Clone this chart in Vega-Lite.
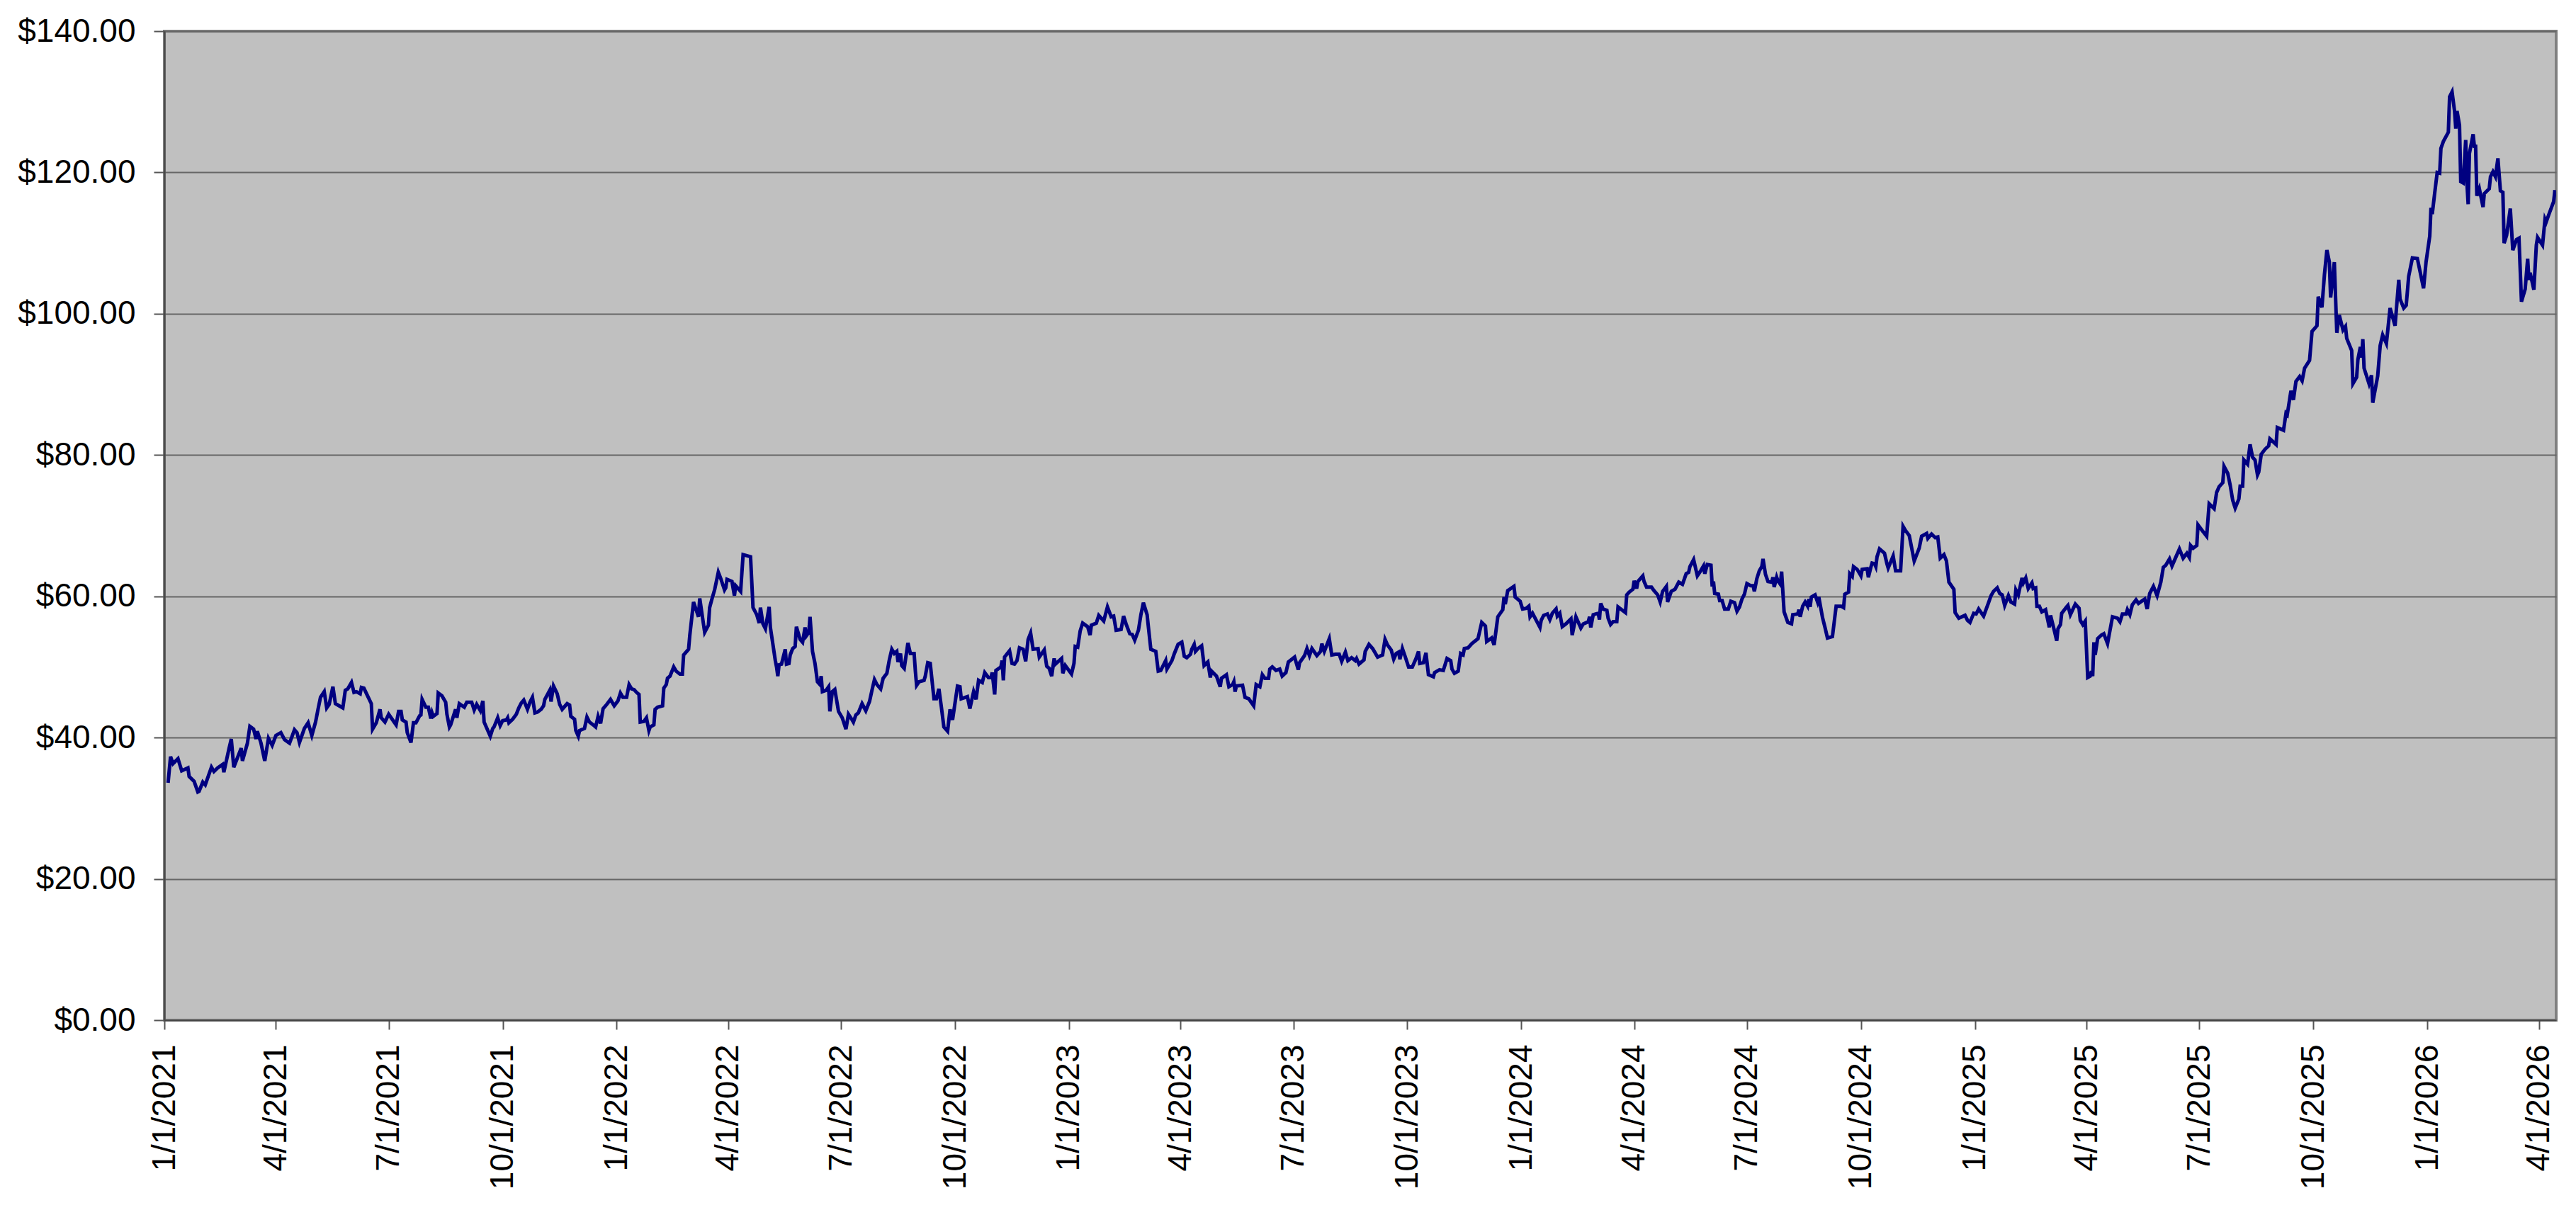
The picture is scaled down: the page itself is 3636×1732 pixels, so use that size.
{
  "$schema": "https://vega.github.io/schema/vega-lite/v6.json",
  "description": "Daily closing price, 1/1/2021 to 4/2026",
  "width": 3376,
  "height": 1396,
  "autosize": {"type": "none"},
  "padding": {"left": 232, "top": 44, "right": 28, "bottom": 292},
  "background": "#ffffff",
  "data": {
    "values": [
      {"date": "2021-01-04", "price": 33.6}, {"date": "2021-01-06", "price": 37.3}, {"date": "2021-01-08", "price": 36.3}, {"date": "2021-01-12", "price": 37.0},
      {"date": "2021-01-15", "price": 35.3}, {"date": "2021-01-20", "price": 35.7}, {"date": "2021-01-21", "price": 34.5}, {"date": "2021-01-25", "price": 33.8},
      {"date": "2021-01-28", "price": 32.3}, {"date": "2021-01-29", "price": 32.4}, {"date": "2021-02-01", "price": 33.7}, {"date": "2021-02-03", "price": 33.3},
      {"date": "2021-02-08", "price": 35.8}, {"date": "2021-02-10", "price": 35.2}, {"date": "2021-02-13", "price": 35.7}, {"date": "2021-02-17", "price": 36.2},
      {"date": "2021-02-18", "price": 35.1}, {"date": "2021-02-22", "price": 38.3}, {"date": "2021-02-24", "price": 39.8}, {"date": "2021-02-26", "price": 35.8},
      {"date": "2021-03-04", "price": 38.5}, {"date": "2021-03-05", "price": 36.7}, {"date": "2021-03-09", "price": 39.2}, {"date": "2021-03-11", "price": 41.6},
      {"date": "2021-03-14", "price": 41.2}, {"date": "2021-03-16", "price": 39.8}, {"date": "2021-03-17", "price": 40.9}, {"date": "2021-03-20", "price": 39.2},
      {"date": "2021-03-23", "price": 36.7}, {"date": "2021-03-26", "price": 39.9}, {"date": "2021-03-29", "price": 38.9}, {"date": "2021-04-01", "price": 40.3},
      {"date": "2021-04-05", "price": 40.7}, {"date": "2021-04-08", "price": 39.7}, {"date": "2021-04-12", "price": 39.2}, {"date": "2021-04-16", "price": 41.1},
      {"date": "2021-04-18", "price": 40.7}, {"date": "2021-04-20", "price": 39.3}, {"date": "2021-04-24", "price": 41.3}, {"date": "2021-04-27", "price": 42.1},
      {"date": "2021-04-30", "price": 40.3}, {"date": "2021-05-03", "price": 42.2}, {"date": "2021-05-05", "price": 44.0}, {"date": "2021-05-07", "price": 45.7},
      {"date": "2021-05-10", "price": 46.5}, {"date": "2021-05-12", "price": 44.2}, {"date": "2021-05-14", "price": 44.7}, {"date": "2021-05-17", "price": 47.2},
      {"date": "2021-05-19", "price": 44.8}, {"date": "2021-05-22", "price": 44.5}, {"date": "2021-05-25", "price": 44.2}, {"date": "2021-05-27", "price": 46.7},
      {"date": "2021-05-29", "price": 46.9}, {"date": "2021-06-01", "price": 47.8}, {"date": "2021-06-03", "price": 46.4}, {"date": "2021-06-05", "price": 46.5},
      {"date": "2021-06-08", "price": 46.2}, {"date": "2021-06-09", "price": 47.1}, {"date": "2021-06-11", "price": 47.0}, {"date": "2021-06-14", "price": 45.9},
      {"date": "2021-06-17", "price": 44.8}, {"date": "2021-06-18", "price": 41.2}, {"date": "2021-06-21", "price": 42.1}, {"date": "2021-06-24", "price": 44.0},
      {"date": "2021-06-25", "price": 42.8}, {"date": "2021-06-28", "price": 42.2}, {"date": "2021-07-01", "price": 43.3}, {"date": "2021-07-05", "price": 42.3},
      {"date": "2021-07-07", "price": 41.8}, {"date": "2021-07-09", "price": 43.7}, {"date": "2021-07-11", "price": 43.7}, {"date": "2021-07-12", "price": 42.5},
      {"date": "2021-07-15", "price": 42.2}, {"date": "2021-07-16", "price": 40.7}, {"date": "2021-07-19", "price": 39.3}, {"date": "2021-07-21", "price": 42.1},
      {"date": "2021-07-23", "price": 42.1}, {"date": "2021-07-26", "price": 43.1}, {"date": "2021-07-27", "price": 43.2}, {"date": "2021-07-28", "price": 45.4},
      {"date": "2021-07-31", "price": 44.3}, {"date": "2021-08-02", "price": 44.3}, {"date": "2021-08-04", "price": 42.7}, {"date": "2021-08-05", "price": 43.5},
      {"date": "2021-08-06", "price": 43.0}, {"date": "2021-08-09", "price": 43.4}, {"date": "2021-08-10", "price": 46.3}, {"date": "2021-08-13", "price": 45.9},
      {"date": "2021-08-16", "price": 45.0}, {"date": "2021-08-17", "price": 43.3}, {"date": "2021-08-19", "price": 41.5}, {"date": "2021-08-20", "price": 41.8},
      {"date": "2021-08-24", "price": 44.0}, {"date": "2021-08-25", "price": 42.8}, {"date": "2021-08-27", "price": 44.8}, {"date": "2021-08-31", "price": 44.3},
      {"date": "2021-09-02", "price": 45.0}, {"date": "2021-09-06", "price": 45.0}, {"date": "2021-09-08", "price": 43.9}, {"date": "2021-09-10", "price": 44.7},
      {"date": "2021-09-13", "price": 43.8}, {"date": "2021-09-15", "price": 45.2}, {"date": "2021-09-16", "price": 42.2}, {"date": "2021-09-19", "price": 41.0},
      {"date": "2021-09-21", "price": 40.2}, {"date": "2021-09-23", "price": 41.3}, {"date": "2021-09-24", "price": 41.5}, {"date": "2021-09-27", "price": 42.8},
      {"date": "2021-09-29", "price": 41.7}, {"date": "2021-10-01", "price": 42.4}, {"date": "2021-10-04", "price": 42.5}, {"date": "2021-10-05", "price": 42.8},
      {"date": "2021-10-06", "price": 42.1}, {"date": "2021-10-09", "price": 42.6}, {"date": "2021-10-12", "price": 43.3}, {"date": "2021-10-14", "price": 44.2},
      {"date": "2021-10-16", "price": 44.9}, {"date": "2021-10-18", "price": 45.3}, {"date": "2021-10-21", "price": 44.0}, {"date": "2021-10-23", "price": 45.0},
      {"date": "2021-10-25", "price": 45.7}, {"date": "2021-10-27", "price": 43.5}, {"date": "2021-10-29", "price": 43.6}, {"date": "2021-11-01", "price": 44.0},
      {"date": "2021-11-03", "price": 44.5}, {"date": "2021-11-04", "price": 45.4}, {"date": "2021-11-08", "price": 46.7}, {"date": "2021-11-09", "price": 45.1},
      {"date": "2021-11-11", "price": 47.3}, {"date": "2021-11-14", "price": 46.2}, {"date": "2021-11-16", "price": 44.7}, {"date": "2021-11-18", "price": 44.0},
      {"date": "2021-11-22", "price": 44.8}, {"date": "2021-11-24", "price": 44.6}, {"date": "2021-11-25", "price": 43.0}, {"date": "2021-11-28", "price": 42.6},
      {"date": "2021-11-29", "price": 41.0}, {"date": "2021-12-01", "price": 40.2}, {"date": "2021-12-02", "price": 41.0}, {"date": "2021-12-06", "price": 41.3},
      {"date": "2021-12-08", "price": 42.9}, {"date": "2021-12-10", "price": 42.2}, {"date": "2021-12-13", "price": 41.8}, {"date": "2021-12-15", "price": 41.5},
      {"date": "2021-12-17", "price": 43.0}, {"date": "2021-12-19", "price": 42.0}, {"date": "2021-12-21", "price": 44.1}, {"date": "2021-12-24", "price": 44.7},
      {"date": "2021-12-27", "price": 45.4}, {"date": "2021-12-30", "price": 44.5}, {"date": "2022-01-02", "price": 45.2}, {"date": "2022-01-04", "price": 46.3},
      {"date": "2022-01-06", "price": 45.7}, {"date": "2022-01-09", "price": 45.7}, {"date": "2022-01-11", "price": 47.5}, {"date": "2022-01-13", "price": 46.9},
      {"date": "2022-01-15", "price": 46.8}, {"date": "2022-01-17", "price": 46.4}, {"date": "2022-01-19", "price": 46.1}, {"date": "2022-01-20", "price": 42.2},
      {"date": "2022-01-23", "price": 42.3}, {"date": "2022-01-25", "price": 42.8}, {"date": "2022-01-27", "price": 41.0}, {"date": "2022-01-28", "price": 41.5},
      {"date": "2022-01-31", "price": 41.8}, {"date": "2022-02-01", "price": 44.0}, {"date": "2022-02-03", "price": 44.3}, {"date": "2022-02-07", "price": 44.5},
      {"date": "2022-02-08", "price": 47.0}, {"date": "2022-02-10", "price": 47.5}, {"date": "2022-02-11", "price": 48.4}, {"date": "2022-02-13", "price": 48.7},
      {"date": "2022-02-16", "price": 50.0}, {"date": "2022-02-18", "price": 49.4}, {"date": "2022-02-21", "price": 49.0}, {"date": "2022-02-23", "price": 49.0},
      {"date": "2022-02-24", "price": 51.7}, {"date": "2022-02-28", "price": 52.5}, {"date": "2022-03-01", "price": 54.5}, {"date": "2022-03-04", "price": 59.2},
      {"date": "2022-03-08", "price": 57.1}, {"date": "2022-03-09", "price": 59.7}, {"date": "2022-03-13", "price": 54.9}, {"date": "2022-03-16", "price": 55.9},
      {"date": "2022-03-17", "price": 58.4}, {"date": "2022-03-19", "price": 59.7}, {"date": "2022-03-21", "price": 60.9}, {"date": "2022-03-24", "price": 63.4},
      {"date": "2022-03-26", "price": 62.5}, {"date": "2022-03-29", "price": 60.9}, {"date": "2022-03-30", "price": 61.2}, {"date": "2022-03-31", "price": 62.4},
      {"date": "2022-04-04", "price": 62.1}, {"date": "2022-04-06", "price": 60.1}, {"date": "2022-04-07", "price": 61.5}, {"date": "2022-04-11", "price": 60.7},
      {"date": "2022-04-13", "price": 65.9}, {"date": "2022-04-15", "price": 65.8}, {"date": "2022-04-19", "price": 65.6}, {"date": "2022-04-21", "price": 58.4},
      {"date": "2022-04-24", "price": 57.4}, {"date": "2022-04-26", "price": 56.2}, {"date": "2022-04-27", "price": 58.4}, {"date": "2022-04-29", "price": 56.1},
      {"date": "2022-05-01", "price": 55.4}, {"date": "2022-05-04", "price": 58.5}, {"date": "2022-05-05", "price": 55.6}, {"date": "2022-05-09", "price": 50.9},
      {"date": "2022-05-10", "price": 50.0}, {"date": "2022-05-11", "price": 48.7}, {"date": "2022-05-12", "price": 50.3}, {"date": "2022-05-14", "price": 50.4},
      {"date": "2022-05-17", "price": 52.5}, {"date": "2022-05-18", "price": 50.4}, {"date": "2022-05-20", "price": 50.5}, {"date": "2022-05-21", "price": 51.7},
      {"date": "2022-05-23", "price": 52.6}, {"date": "2022-05-25", "price": 52.9}, {"date": "2022-05-26", "price": 55.7}, {"date": "2022-05-29", "price": 53.9},
      {"date": "2022-05-31", "price": 53.5}, {"date": "2022-06-02", "price": 55.6}, {"date": "2022-06-03", "price": 54.4}, {"date": "2022-06-05", "price": 54.9},
      {"date": "2022-06-06", "price": 57.1}, {"date": "2022-06-08", "price": 52.2}, {"date": "2022-06-10", "price": 50.5}, {"date": "2022-06-12", "price": 47.9},
      {"date": "2022-06-14", "price": 47.5}, {"date": "2022-06-15", "price": 48.7}, {"date": "2022-06-16", "price": 46.5}, {"date": "2022-06-19", "price": 46.7},
      {"date": "2022-06-21", "price": 47.2}, {"date": "2022-06-22", "price": 43.7}, {"date": "2022-06-24", "price": 46.5}, {"date": "2022-06-26", "price": 46.8},
      {"date": "2022-06-29", "price": 43.7}, {"date": "2022-07-02", "price": 42.8}, {"date": "2022-07-05", "price": 41.2}, {"date": "2022-07-07", "price": 43.3},
      {"date": "2022-07-10", "price": 42.5}, {"date": "2022-07-11", "price": 42.2}, {"date": "2022-07-13", "price": 43.2}, {"date": "2022-07-15", "price": 43.5},
      {"date": "2022-07-18", "price": 44.8}, {"date": "2022-07-21", "price": 43.8}, {"date": "2022-07-24", "price": 45.1}, {"date": "2022-07-26", "price": 46.7},
      {"date": "2022-07-28", "price": 48.2}, {"date": "2022-07-30", "price": 47.5}, {"date": "2022-08-02", "price": 46.9}, {"date": "2022-08-04", "price": 48.4},
      {"date": "2022-08-07", "price": 49.1}, {"date": "2022-08-09", "price": 51.0}, {"date": "2022-08-11", "price": 52.5}, {"date": "2022-08-13", "price": 51.9},
      {"date": "2022-08-15", "price": 52.2}, {"date": "2022-08-16", "price": 50.7}, {"date": "2022-08-18", "price": 51.9}, {"date": "2022-08-19", "price": 50.2},
      {"date": "2022-08-21", "price": 49.8}, {"date": "2022-08-24", "price": 53.4}, {"date": "2022-08-26", "price": 51.9}, {"date": "2022-08-29", "price": 51.9},
      {"date": "2022-08-30", "price": 49.4}, {"date": "2022-08-31", "price": 47.4}, {"date": "2022-09-02", "price": 47.9}, {"date": "2022-09-06", "price": 48.1},
      {"date": "2022-09-07", "price": 48.7}, {"date": "2022-09-09", "price": 50.6}, {"date": "2022-09-11", "price": 50.5}, {"date": "2022-09-14", "price": 45.5},
      {"date": "2022-09-16", "price": 45.5}, {"date": "2022-09-18", "price": 46.9}, {"date": "2022-09-20", "price": 44.3}, {"date": "2022-09-22", "price": 41.5},
      {"date": "2022-09-25", "price": 40.9}, {"date": "2022-09-27", "price": 44.0}, {"date": "2022-09-29", "price": 42.5}, {"date": "2022-10-03", "price": 47.3},
      {"date": "2022-10-05", "price": 47.2}, {"date": "2022-10-06", "price": 45.5}, {"date": "2022-10-11", "price": 45.8}, {"date": "2022-10-13", "price": 44.1},
      {"date": "2022-10-16", "price": 46.5}, {"date": "2022-10-18", "price": 45.4}, {"date": "2022-10-20", "price": 48.1}, {"date": "2022-10-23", "price": 47.8},
      {"date": "2022-10-25", "price": 49.2}, {"date": "2022-10-28", "price": 48.5}, {"date": "2022-10-30", "price": 48.5}, {"date": "2022-10-31", "price": 49.2},
      {"date": "2022-11-02", "price": 46.1}, {"date": "2022-11-03", "price": 49.5}, {"date": "2022-11-07", "price": 50.0}, {"date": "2022-11-08", "price": 50.9},
      {"date": "2022-11-09", "price": 48.1}, {"date": "2022-11-10", "price": 51.4}, {"date": "2022-11-14", "price": 52.3}, {"date": "2022-11-16", "price": 50.5},
      {"date": "2022-11-18", "price": 50.4}, {"date": "2022-11-20", "price": 50.9}, {"date": "2022-11-22", "price": 52.7}, {"date": "2022-11-25", "price": 52.5},
      {"date": "2022-11-27", "price": 50.8}, {"date": "2022-11-29", "price": 53.9}, {"date": "2022-12-01", "price": 54.8}, {"date": "2022-12-03", "price": 52.5},
      {"date": "2022-12-07", "price": 52.6}, {"date": "2022-12-08", "price": 51.4}, {"date": "2022-12-12", "price": 52.4}, {"date": "2022-12-14", "price": 50.1},
      {"date": "2022-12-16", "price": 49.8}, {"date": "2022-12-18", "price": 48.7}, {"date": "2022-12-20", "price": 51.2}, {"date": "2022-12-21", "price": 50.4},
      {"date": "2022-12-26", "price": 51.2}, {"date": "2022-12-27", "price": 49.1}, {"date": "2022-12-29", "price": 50.2}, {"date": "2023-01-03", "price": 49.0},
      {"date": "2023-01-05", "price": 50.5}, {"date": "2023-01-06", "price": 52.9}, {"date": "2023-01-08", "price": 52.8}, {"date": "2023-01-10", "price": 55.1},
      {"date": "2023-01-12", "price": 56.2}, {"date": "2023-01-16", "price": 55.7}, {"date": "2023-01-18", "price": 54.5}, {"date": "2023-01-19", "price": 55.9},
      {"date": "2023-01-23", "price": 56.2}, {"date": "2023-01-25", "price": 57.3}, {"date": "2023-01-27", "price": 56.9}, {"date": "2023-01-29", "price": 56.5},
      {"date": "2023-02-01", "price": 58.5}, {"date": "2023-02-04", "price": 57.1}, {"date": "2023-02-06", "price": 57.2}, {"date": "2023-02-08", "price": 55.2},
      {"date": "2023-02-12", "price": 55.3}, {"date": "2023-02-14", "price": 57.2}, {"date": "2023-02-16", "price": 56.1}, {"date": "2023-02-19", "price": 54.7},
      {"date": "2023-02-21", "price": 54.6}, {"date": "2023-02-23", "price": 53.8}, {"date": "2023-02-26", "price": 55.2}, {"date": "2023-02-28", "price": 57.4},
      {"date": "2023-03-02", "price": 59.1}, {"date": "2023-03-05", "price": 57.4}, {"date": "2023-03-06", "price": 55.7}, {"date": "2023-03-08", "price": 52.5},
      {"date": "2023-03-12", "price": 52.2}, {"date": "2023-03-14", "price": 49.4}, {"date": "2023-03-16", "price": 49.5}, {"date": "2023-03-20", "price": 50.9},
      {"date": "2023-03-21", "price": 49.7}, {"date": "2023-03-25", "price": 50.9}, {"date": "2023-03-27", "price": 51.9}, {"date": "2023-03-30", "price": 53.2},
      {"date": "2023-04-02", "price": 53.5}, {"date": "2023-04-04", "price": 51.5}, {"date": "2023-04-06", "price": 51.3}, {"date": "2023-04-09", "price": 51.8},
      {"date": "2023-04-10", "price": 52.5}, {"date": "2023-04-12", "price": 53.2}, {"date": "2023-04-13", "price": 52.2}, {"date": "2023-04-15", "price": 52.6},
      {"date": "2023-04-18", "price": 53.0}, {"date": "2023-04-20", "price": 50.2}, {"date": "2023-04-23", "price": 50.7}, {"date": "2023-04-25", "price": 48.5},
      {"date": "2023-04-26", "price": 49.4}, {"date": "2023-04-30", "price": 48.7}, {"date": "2023-05-03", "price": 47.2}, {"date": "2023-05-04", "price": 48.4},
      {"date": "2023-05-08", "price": 48.9}, {"date": "2023-05-10", "price": 47.2}, {"date": "2023-05-13", "price": 47.5}, {"date": "2023-05-14", "price": 47.9},
      {"date": "2023-05-15", "price": 46.5}, {"date": "2023-05-16", "price": 47.3}, {"date": "2023-05-21", "price": 47.4}, {"date": "2023-05-23", "price": 45.7},
      {"date": "2023-05-26", "price": 45.5}, {"date": "2023-05-30", "price": 44.5}, {"date": "2023-06-01", "price": 47.5}, {"date": "2023-06-04", "price": 47.2},
      {"date": "2023-06-06", "price": 48.9}, {"date": "2023-06-08", "price": 48.4}, {"date": "2023-06-11", "price": 48.4}, {"date": "2023-06-12", "price": 49.7},
      {"date": "2023-06-14", "price": 50.0}, {"date": "2023-06-17", "price": 49.5}, {"date": "2023-06-20", "price": 49.7}, {"date": "2023-06-22", "price": 48.7},
      {"date": "2023-06-25", "price": 49.2}, {"date": "2023-06-27", "price": 50.7}, {"date": "2023-07-02", "price": 51.4}, {"date": "2023-07-05", "price": 49.6},
      {"date": "2023-07-06", "price": 50.6}, {"date": "2023-07-10", "price": 51.6}, {"date": "2023-07-12", "price": 52.6}, {"date": "2023-07-14", "price": 51.6},
      {"date": "2023-07-16", "price": 52.6}, {"date": "2023-07-20", "price": 51.6}, {"date": "2023-07-23", "price": 52.2}, {"date": "2023-07-24", "price": 53.3},
      {"date": "2023-07-26", "price": 52.2}, {"date": "2023-07-30", "price": 54.0}, {"date": "2023-08-01", "price": 51.7}, {"date": "2023-08-04", "price": 51.8},
      {"date": "2023-08-07", "price": 51.8}, {"date": "2023-08-09", "price": 50.8}, {"date": "2023-08-12", "price": 52.1}, {"date": "2023-08-14", "price": 50.9},
      {"date": "2023-08-17", "price": 51.3}, {"date": "2023-08-20", "price": 50.9}, {"date": "2023-08-21", "price": 51.2}, {"date": "2023-08-23", "price": 50.4},
      {"date": "2023-08-27", "price": 51.0}, {"date": "2023-08-28", "price": 52.2}, {"date": "2023-08-31", "price": 53.2}, {"date": "2023-09-03", "price": 52.6},
      {"date": "2023-09-07", "price": 51.4}, {"date": "2023-09-11", "price": 51.7}, {"date": "2023-09-13", "price": 53.9}, {"date": "2023-09-15", "price": 53.1},
      {"date": "2023-09-18", "price": 52.4}, {"date": "2023-09-20", "price": 51.1}, {"date": "2023-09-22", "price": 51.9}, {"date": "2023-09-24", "price": 52.1},
      {"date": "2023-09-25", "price": 51.1}, {"date": "2023-09-27", "price": 52.6}, {"date": "2023-09-29", "price": 51.6}, {"date": "2023-10-02", "price": 50.0},
      {"date": "2023-10-05", "price": 50.0}, {"date": "2023-10-08", "price": 51.2}, {"date": "2023-10-10", "price": 52.2}, {"date": "2023-10-11", "price": 50.5},
      {"date": "2023-10-14", "price": 50.6}, {"date": "2023-10-16", "price": 52.0}, {"date": "2023-10-18", "price": 48.9}, {"date": "2023-10-22", "price": 48.6},
      {"date": "2023-10-23", "price": 49.2}, {"date": "2023-10-27", "price": 49.6}, {"date": "2023-10-30", "price": 49.5}, {"date": "2023-11-02", "price": 51.2},
      {"date": "2023-11-05", "price": 50.9}, {"date": "2023-11-06", "price": 49.7}, {"date": "2023-11-08", "price": 49.1}, {"date": "2023-11-11", "price": 49.4},
      {"date": "2023-11-13", "price": 51.9}, {"date": "2023-11-15", "price": 51.7}, {"date": "2023-11-16", "price": 52.6}, {"date": "2023-11-19", "price": 52.7},
      {"date": "2023-11-22", "price": 53.3}, {"date": "2023-11-27", "price": 54.0}, {"date": "2023-11-30", "price": 56.3}, {"date": "2023-12-03", "price": 55.8},
      {"date": "2023-12-04", "price": 53.6}, {"date": "2023-12-08", "price": 54.1}, {"date": "2023-12-10", "price": 53.1}, {"date": "2023-12-13", "price": 57.1},
      {"date": "2023-12-17", "price": 58.1}, {"date": "2023-12-18", "price": 59.9}, {"date": "2023-12-19", "price": 58.9}, {"date": "2023-12-21", "price": 60.8},
      {"date": "2023-12-26", "price": 61.4}, {"date": "2023-12-27", "price": 59.9}, {"date": "2023-12-31", "price": 59.3}, {"date": "2024-01-02", "price": 58.2},
      {"date": "2024-01-05", "price": 58.3}, {"date": "2024-01-07", "price": 58.6}, {"date": "2024-01-08", "price": 57.1}, {"date": "2024-01-10", "price": 57.6},
      {"date": "2024-01-13", "price": 56.6}, {"date": "2024-01-16", "price": 55.6}, {"date": "2024-01-17", "price": 56.6}, {"date": "2024-01-19", "price": 57.3},
      {"date": "2024-01-22", "price": 57.5}, {"date": "2024-01-24", "price": 56.7}, {"date": "2024-01-26", "price": 57.6}, {"date": "2024-01-29", "price": 58.2},
      {"date": "2024-01-30", "price": 57.2}, {"date": "2024-02-01", "price": 57.6}, {"date": "2024-02-03", "price": 55.7}, {"date": "2024-02-06", "price": 56.1},
      {"date": "2024-02-10", "price": 56.8}, {"date": "2024-02-11", "price": 54.5}, {"date": "2024-02-14", "price": 57.1}, {"date": "2024-02-18", "price": 55.5},
      {"date": "2024-02-20", "price": 56.1}, {"date": "2024-02-24", "price": 56.4}, {"date": "2024-02-25", "price": 57.1}, {"date": "2024-02-26", "price": 55.6},
      {"date": "2024-02-28", "price": 57.4}, {"date": "2024-03-03", "price": 57.6}, {"date": "2024-03-04", "price": 56.7}, {"date": "2024-03-05", "price": 59.0},
      {"date": "2024-03-07", "price": 58.2}, {"date": "2024-03-10", "price": 58.0}, {"date": "2024-03-11", "price": 56.9}, {"date": "2024-03-13", "price": 56.0},
      {"date": "2024-03-15", "price": 56.4}, {"date": "2024-03-18", "price": 56.4}, {"date": "2024-03-19", "price": 58.5}, {"date": "2024-03-22", "price": 58.1},
      {"date": "2024-03-25", "price": 57.7}, {"date": "2024-03-26", "price": 60.2}, {"date": "2024-03-28", "price": 60.6}, {"date": "2024-03-31", "price": 61.0},
      {"date": "2024-04-01", "price": 62.2}, {"date": "2024-04-03", "price": 61.1}, {"date": "2024-04-04", "price": 62.1}, {"date": "2024-04-08", "price": 62.9},
      {"date": "2024-04-09", "price": 62.1}, {"date": "2024-04-11", "price": 61.3}, {"date": "2024-04-15", "price": 61.3}, {"date": "2024-04-17", "price": 60.8},
      {"date": "2024-04-20", "price": 60.2}, {"date": "2024-04-22", "price": 59.2}, {"date": "2024-04-24", "price": 60.7}, {"date": "2024-04-27", "price": 61.4},
      {"date": "2024-04-28", "price": 59.2}, {"date": "2024-05-01", "price": 60.7}, {"date": "2024-05-04", "price": 61.0}, {"date": "2024-05-07", "price": 62.0},
      {"date": "2024-05-10", "price": 61.7}, {"date": "2024-05-13", "price": 63.2}, {"date": "2024-05-15", "price": 63.4}, {"date": "2024-05-16", "price": 64.2},
      {"date": "2024-05-19", "price": 65.2}, {"date": "2024-05-22", "price": 62.9}, {"date": "2024-05-25", "price": 63.7}, {"date": "2024-05-27", "price": 64.3},
      {"date": "2024-05-28", "price": 63.2}, {"date": "2024-05-30", "price": 64.5}, {"date": "2024-06-02", "price": 64.4}, {"date": "2024-06-03", "price": 61.4},
      {"date": "2024-06-04", "price": 62.1}, {"date": "2024-06-05", "price": 60.4}, {"date": "2024-06-08", "price": 60.3}, {"date": "2024-06-09", "price": 59.4},
      {"date": "2024-06-11", "price": 59.4}, {"date": "2024-06-13", "price": 58.2}, {"date": "2024-06-16", "price": 58.2}, {"date": "2024-06-18", "price": 59.3},
      {"date": "2024-06-21", "price": 59.1}, {"date": "2024-06-23", "price": 57.9}, {"date": "2024-06-25", "price": 58.5}, {"date": "2024-06-27", "price": 59.6},
      {"date": "2024-06-29", "price": 60.3}, {"date": "2024-07-01", "price": 61.8}, {"date": "2024-07-04", "price": 61.5}, {"date": "2024-07-06", "price": 61.5},
      {"date": "2024-07-07", "price": 60.7}, {"date": "2024-07-09", "price": 62.5}, {"date": "2024-07-11", "price": 63.6}, {"date": "2024-07-13", "price": 64.2},
      {"date": "2024-07-14", "price": 65.3}, {"date": "2024-07-16", "price": 63.1}, {"date": "2024-07-18", "price": 62.1}, {"date": "2024-07-21", "price": 62.0},
      {"date": "2024-07-22", "price": 62.7}, {"date": "2024-07-23", "price": 61.3}, {"date": "2024-07-25", "price": 62.7}, {"date": "2024-07-26", "price": 62.2},
      {"date": "2024-07-28", "price": 61.7}, {"date": "2024-07-29", "price": 63.5}, {"date": "2024-07-31", "price": 57.8}, {"date": "2024-08-03", "price": 56.3},
      {"date": "2024-08-06", "price": 56.1}, {"date": "2024-08-07", "price": 57.4}, {"date": "2024-08-11", "price": 57.5}, {"date": "2024-08-12", "price": 58.1},
      {"date": "2024-08-13", "price": 57.1}, {"date": "2024-08-15", "price": 58.6}, {"date": "2024-08-17", "price": 59.2}, {"date": "2024-08-19", "price": 58.6},
      {"date": "2024-08-20", "price": 59.6}, {"date": "2024-08-21", "price": 58.5}, {"date": "2024-08-22", "price": 59.9}, {"date": "2024-08-25", "price": 60.2},
      {"date": "2024-08-27", "price": 59.2}, {"date": "2024-08-28", "price": 59.9}, {"date": "2024-08-31", "price": 57.0}, {"date": "2024-09-02", "price": 55.6},
      {"date": "2024-09-04", "price": 54.1}, {"date": "2024-09-08", "price": 54.3}, {"date": "2024-09-11", "price": 58.6}, {"date": "2024-09-15", "price": 58.6},
      {"date": "2024-09-17", "price": 58.4}, {"date": "2024-09-18", "price": 60.3}, {"date": "2024-09-21", "price": 60.6}, {"date": "2024-09-22", "price": 63.2},
      {"date": "2024-09-24", "price": 62.8}, {"date": "2024-09-25", "price": 64.2}, {"date": "2024-09-28", "price": 63.8}, {"date": "2024-10-01", "price": 62.9},
      {"date": "2024-10-02", "price": 63.8}, {"date": "2024-10-06", "price": 63.9}, {"date": "2024-10-07", "price": 62.7}, {"date": "2024-10-09", "price": 64.1},
      {"date": "2024-10-10", "price": 64.7}, {"date": "2024-10-12", "price": 64.6}, {"date": "2024-10-13", "price": 64.2}, {"date": "2024-10-14", "price": 65.6},
      {"date": "2024-10-16", "price": 66.7}, {"date": "2024-10-20", "price": 66.1}, {"date": "2024-10-22", "price": 64.6}, {"date": "2024-10-23", "price": 64.0},
      {"date": "2024-10-27", "price": 65.7}, {"date": "2024-10-29", "price": 63.6}, {"date": "2024-11-02", "price": 63.6}, {"date": "2024-11-04", "price": 69.9},
      {"date": "2024-11-06", "price": 69.3}, {"date": "2024-11-09", "price": 68.6}, {"date": "2024-11-13", "price": 65.0}, {"date": "2024-11-17", "price": 66.8},
      {"date": "2024-11-19", "price": 68.5}, {"date": "2024-11-23", "price": 68.9}, {"date": "2024-11-24", "price": 68.2}, {"date": "2024-11-27", "price": 68.8},
      {"date": "2024-11-30", "price": 68.3}, {"date": "2024-12-02", "price": 68.4}, {"date": "2024-12-04", "price": 65.4}, {"date": "2024-12-07", "price": 65.9},
      {"date": "2024-12-09", "price": 65.0}, {"date": "2024-12-11", "price": 62.0}, {"date": "2024-12-15", "price": 61.0}, {"date": "2024-12-16", "price": 57.7},
      {"date": "2024-12-19", "price": 56.9}, {"date": "2024-12-24", "price": 57.3}, {"date": "2024-12-26", "price": 56.6}, {"date": "2024-12-28", "price": 56.3},
      {"date": "2024-12-31", "price": 57.6}, {"date": "2025-01-02", "price": 57.5}, {"date": "2025-01-04", "price": 58.2}, {"date": "2025-01-08", "price": 57.2},
      {"date": "2025-01-12", "price": 59.1}, {"date": "2025-01-14", "price": 60.1}, {"date": "2025-01-16", "price": 60.7}, {"date": "2025-01-19", "price": 61.2},
      {"date": "2025-01-21", "price": 60.4}, {"date": "2025-01-23", "price": 60.2}, {"date": "2025-01-25", "price": 58.7}, {"date": "2025-01-28", "price": 60.1},
      {"date": "2025-01-30", "price": 59.2}, {"date": "2025-02-02", "price": 58.9}, {"date": "2025-02-03", "price": 60.9}, {"date": "2025-02-05", "price": 60.2},
      {"date": "2025-02-08", "price": 62.6}, {"date": "2025-02-09", "price": 61.9}, {"date": "2025-02-11", "price": 62.6}, {"date": "2025-02-13", "price": 61.1},
      {"date": "2025-02-16", "price": 61.9}, {"date": "2025-02-17", "price": 61.1}, {"date": "2025-02-19", "price": 61.2}, {"date": "2025-02-20", "price": 58.6},
      {"date": "2025-02-22", "price": 58.6}, {"date": "2025-02-24", "price": 57.8}, {"date": "2025-02-27", "price": 58.1}, {"date": "2025-03-02", "price": 55.6},
      {"date": "2025-03-03", "price": 57.3}, {"date": "2025-03-06", "price": 55.2}, {"date": "2025-03-08", "price": 53.7}, {"date": "2025-03-09", "price": 55.4},
      {"date": "2025-03-11", "price": 56.0}, {"date": "2025-03-12", "price": 57.6}, {"date": "2025-03-16", "price": 58.5}, {"date": "2025-03-17", "price": 58.7},
      {"date": "2025-03-19", "price": 57.4}, {"date": "2025-03-23", "price": 58.9}, {"date": "2025-03-26", "price": 58.3}, {"date": "2025-03-27", "price": 56.6},
      {"date": "2025-03-29", "price": 56.0}, {"date": "2025-03-31", "price": 56.5}, {"date": "2025-04-02", "price": 48.5}, {"date": "2025-04-04", "price": 48.7},
      {"date": "2025-04-05", "price": 49.4}, {"date": "2025-04-06", "price": 48.7}, {"date": "2025-04-07", "price": 53.5}, {"date": "2025-04-08", "price": 51.7},
      {"date": "2025-04-10", "price": 54.0}, {"date": "2025-04-13", "price": 54.5}, {"date": "2025-04-15", "price": 54.7}, {"date": "2025-04-18", "price": 53.3},
      {"date": "2025-04-22", "price": 57.1}, {"date": "2025-04-26", "price": 56.9}, {"date": "2025-04-28", "price": 56.4}, {"date": "2025-04-30", "price": 57.5},
      {"date": "2025-05-03", "price": 57.5}, {"date": "2025-05-04", "price": 58.1}, {"date": "2025-05-06", "price": 57.4}, {"date": "2025-05-08", "price": 58.8},
      {"date": "2025-05-11", "price": 59.5}, {"date": "2025-05-13", "price": 59.0}, {"date": "2025-05-18", "price": 59.6}, {"date": "2025-05-20", "price": 58.2},
      {"date": "2025-05-22", "price": 60.4}, {"date": "2025-05-25", "price": 61.4}, {"date": "2025-05-28", "price": 60.1}, {"date": "2025-05-31", "price": 62.0},
      {"date": "2025-06-02", "price": 64.1}, {"date": "2025-06-04", "price": 64.4}, {"date": "2025-06-07", "price": 65.3}, {"date": "2025-06-09", "price": 64.3},
      {"date": "2025-06-12", "price": 65.5}, {"date": "2025-06-15", "price": 66.7}, {"date": "2025-06-18", "price": 65.4}, {"date": "2025-06-21", "price": 66.1},
      {"date": "2025-06-23", "price": 65.5}, {"date": "2025-06-24", "price": 67.2}, {"date": "2025-06-26", "price": 66.8}, {"date": "2025-06-29", "price": 67.2},
      {"date": "2025-06-30", "price": 70.1}, {"date": "2025-07-03", "price": 69.4}, {"date": "2025-07-07", "price": 68.5}, {"date": "2025-07-09", "price": 73.1},
      {"date": "2025-07-13", "price": 72.4}, {"date": "2025-07-15", "price": 74.7}, {"date": "2025-07-17", "price": 75.5}, {"date": "2025-07-20", "price": 76.1},
      {"date": "2025-07-21", "price": 78.4}, {"date": "2025-07-24", "price": 77.4}, {"date": "2025-07-26", "price": 75.7}, {"date": "2025-07-28", "price": 73.6},
      {"date": "2025-07-30", "price": 72.5}, {"date": "2025-08-02", "price": 73.8}, {"date": "2025-08-03", "price": 75.6}, {"date": "2025-08-05", "price": 75.6},
      {"date": "2025-08-06", "price": 79.3}, {"date": "2025-08-09", "price": 78.7}, {"date": "2025-08-11", "price": 81.5}, {"date": "2025-08-13", "price": 79.7},
      {"date": "2025-08-15", "price": 79.3}, {"date": "2025-08-17", "price": 77.2}, {"date": "2025-08-18", "price": 77.6}, {"date": "2025-08-20", "price": 80.1},
      {"date": "2025-08-23", "price": 80.8}, {"date": "2025-08-26", "price": 81.3}, {"date": "2025-08-27", "price": 82.3}, {"date": "2025-09-01", "price": 81.5},
      {"date": "2025-09-02", "price": 83.9}, {"date": "2025-09-07", "price": 83.5}, {"date": "2025-09-09", "price": 85.9}, {"date": "2025-09-10", "price": 85.7},
      {"date": "2025-09-13", "price": 89.1}, {"date": "2025-09-15", "price": 87.8}, {"date": "2025-09-17", "price": 90.4}, {"date": "2025-09-20", "price": 91.1},
      {"date": "2025-09-22", "price": 90.5}, {"date": "2025-09-24", "price": 92.3}, {"date": "2025-09-28", "price": 93.4}, {"date": "2025-09-30", "price": 97.5},
      {"date": "2025-10-04", "price": 98.3}, {"date": "2025-10-05", "price": 102.4}, {"date": "2025-10-08", "price": 100.9}, {"date": "2025-10-10", "price": 105.5},
      {"date": "2025-10-12", "price": 109.0}, {"date": "2025-10-14", "price": 107.3}, {"date": "2025-10-15", "price": 102.3}, {"date": "2025-10-18", "price": 107.3},
      {"date": "2025-10-20", "price": 97.3}, {"date": "2025-10-22", "price": 99.8}, {"date": "2025-10-25", "price": 97.7}, {"date": "2025-10-27", "price": 98.2},
      {"date": "2025-10-28", "price": 96.5}, {"date": "2025-11-01", "price": 94.8}, {"date": "2025-11-02", "price": 90.1}, {"date": "2025-11-05", "price": 91.0},
      {"date": "2025-11-06", "price": 93.5}, {"date": "2025-11-08", "price": 95.3}, {"date": "2025-11-09", "price": 93.8}, {"date": "2025-11-10", "price": 96.4},
      {"date": "2025-11-11", "price": 92.3}, {"date": "2025-11-15", "price": 90.1}, {"date": "2025-11-17", "price": 91.3}, {"date": "2025-11-18", "price": 87.4},
      {"date": "2025-11-22", "price": 91.2}, {"date": "2025-11-24", "price": 95.5}, {"date": "2025-11-26", "price": 97.0}, {"date": "2025-11-29", "price": 95.8},
      {"date": "2025-12-02", "price": 100.8}, {"date": "2025-12-06", "price": 98.3}, {"date": "2025-12-09", "price": 104.8}, {"date": "2025-12-10", "price": 102.1},
      {"date": "2025-12-13", "price": 100.8}, {"date": "2025-12-15", "price": 101.2}, {"date": "2025-12-17", "price": 105.3}, {"date": "2025-12-20", "price": 107.9},
      {"date": "2025-12-24", "price": 107.8}, {"date": "2025-12-29", "price": 103.6}, {"date": "2025-12-31", "price": 107.3}, {"date": "2026-01-03", "price": 111.0},
      {"date": "2026-01-04", "price": 115.0}, {"date": "2026-01-05", "price": 114.1}, {"date": "2026-01-07", "price": 117.1}, {"date": "2026-01-09", "price": 120.0},
      {"date": "2026-01-11", "price": 119.9}, {"date": "2026-01-12", "price": 123.4}, {"date": "2026-01-14", "price": 124.4}, {"date": "2026-01-18", "price": 125.7},
      {"date": "2026-01-19", "price": 130.7}, {"date": "2026-01-21", "price": 131.4}, {"date": "2026-01-23", "price": 128.7}, {"date": "2026-01-24", "price": 126.2},
      {"date": "2026-01-25", "price": 128.7}, {"date": "2026-01-27", "price": 126.7}, {"date": "2026-01-28", "price": 118.7}, {"date": "2026-01-30", "price": 118.5},
      {"date": "2026-02-01", "price": 124.6}, {"date": "2026-02-02", "price": 118.5}, {"date": "2026-02-03", "price": 115.5}, {"date": "2026-02-04", "price": 122.7},
      {"date": "2026-02-07", "price": 125.4}, {"date": "2026-02-08", "price": 123.7}, {"date": "2026-02-09", "price": 123.7}, {"date": "2026-02-10", "price": 116.7},
      {"date": "2026-02-12", "price": 117.7}, {"date": "2026-02-15", "price": 115.1}, {"date": "2026-02-16", "price": 117.0}, {"date": "2026-02-20", "price": 117.7},
      {"date": "2026-02-21", "price": 119.4}, {"date": "2026-02-23", "price": 120.1}, {"date": "2026-02-25", "price": 119.4}, {"date": "2026-02-27", "price": 122.0},
      {"date": "2026-03-01", "price": 117.4}, {"date": "2026-03-03", "price": 117.2}, {"date": "2026-03-04", "price": 110.0}, {"date": "2026-03-06", "price": 111.1},
      {"date": "2026-03-09", "price": 114.9}, {"date": "2026-03-11", "price": 109.0}, {"date": "2026-03-14", "price": 110.5}, {"date": "2026-03-16", "price": 110.7},
      {"date": "2026-03-18", "price": 101.7}, {"date": "2026-03-21", "price": 103.5}, {"date": "2026-03-23", "price": 107.8}, {"date": "2026-03-24", "price": 104.8},
      {"date": "2026-03-25", "price": 105.8}, {"date": "2026-03-28", "price": 103.4}, {"date": "2026-03-30", "price": 109.7}, {"date": "2026-03-31", "price": 110.8},
      {"date": "2026-04-04", "price": 109.7}, {"date": "2026-04-06", "price": 113.4}, {"date": "2026-04-07", "price": 113.0}, {"date": "2026-04-09", "price": 114.0},
      {"date": "2026-04-13", "price": 115.9}, {"date": "2026-04-14", "price": 117.5}
    ]
  },
  "mark": {"type": "line", "color": "#000080", "strokeWidth": 5, "clip": true},
  "encoding": {
    "x": {
      "field": "date",
      "type": "temporal",
      "scale": {
        "type": "utc",
        "domain": [
          {"year": 2021, "month": 1, "date": 1, "utc": true},
          {"year": 2026, "month": 4, "date": 15, "utc": true}
        ]
      },
      "axis": {
        "title": null,
        "values": [
          {"year": 2021, "month": 1, "date": 1, "utc": true}, {"year": 2021, "month": 4, "date": 1, "utc": true},
          {"year": 2021, "month": 7, "date": 1, "utc": true}, {"year": 2021, "month": 10, "date": 1, "utc": true},
          {"year": 2022, "month": 1, "date": 1, "utc": true}, {"year": 2022, "month": 4, "date": 1, "utc": true},
          {"year": 2022, "month": 7, "date": 1, "utc": true}, {"year": 2022, "month": 10, "date": 1, "utc": true},
          {"year": 2023, "month": 1, "date": 1, "utc": true}, {"year": 2023, "month": 4, "date": 1, "utc": true},
          {"year": 2023, "month": 7, "date": 1, "utc": true}, {"year": 2023, "month": 10, "date": 1, "utc": true},
          {"year": 2024, "month": 1, "date": 1, "utc": true}, {"year": 2024, "month": 4, "date": 1, "utc": true},
          {"year": 2024, "month": 7, "date": 1, "utc": true}, {"year": 2024, "month": 10, "date": 1, "utc": true},
          {"year": 2025, "month": 1, "date": 1, "utc": true}, {"year": 2025, "month": 4, "date": 1, "utc": true},
          {"year": 2025, "month": 7, "date": 1, "utc": true}, {"year": 2025, "month": 10, "date": 1, "utc": true},
          {"year": 2026, "month": 1, "date": 1, "utc": true}, {"year": 2026, "month": 4, "date": 1, "utc": true}
        ],
        "format": "%-m/%-d/%Y",
        "labelAngle": -90,
        "labelFontSize": 46,
        "labelColor": "#000000",
        "labelPadding": 21,
        "labelLimit": 0,
        "labelOverlap": false,
        "labelFlush": false,
        "labelBound": false,
        "tickSize": 13,
        "tickColor": "#555555",
        "tickWidth": 2,
        "domainColor": "#444444",
        "domainWidth": 2,
        "grid": false
      }
    },
    "y": {
      "field": "price",
      "type": "quantitative",
      "scale": {"domain": [0, 140], "nice": false},
      "axis": {
        "title": null,
        "values": [0, 20, 40, 60, 80, 100, 120, 140],
        "format": "$,.2f",
        "labelFontSize": 46,
        "labelColor": "#000000",
        "labelPadding": 26,
        "labelLimit": 0,
        "labelFlush": false,
        "labelOverlap": false,
        "tickSize": 15,
        "tickColor": "#555555",
        "tickWidth": 2,
        "domainColor": "#444444",
        "domainWidth": 2,
        "grid": true,
        "gridColor": "#666666",
        "gridWidth": 2
      }
    }
  },
  "config": {
    "font": "Liberation Sans",
    "view": {"fill": "#c0c0c0", "stroke": "#808080", "strokeWidth": 4}
  }
}
